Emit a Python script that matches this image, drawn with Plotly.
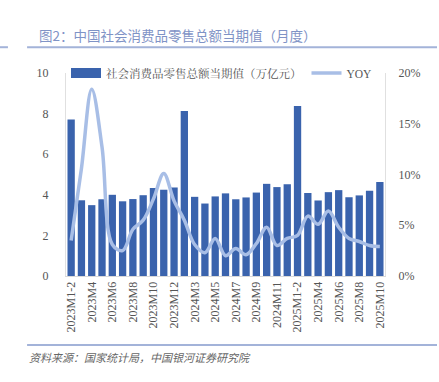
import plotly.graph_objects as go

categories = []
for y, last in [(2023, 12), (2024, 12), (2025, 10)]:
    categories.append(f"{y}M1-2")
    for m in range(3, last + 1):
        categories.append(f"{y}M{m}")

retail_value = [7.71, 3.73, 3.49, 3.78, 4.00, 3.68, 3.79, 3.98, 4.33, 4.25, 4.36,
                8.13, 3.90, 3.57, 3.92, 4.07, 3.78, 3.87, 4.11, 4.54, 4.38, 4.52,
                8.37, 4.09, 3.72, 4.13, 4.23, 3.88, 3.97, 4.20, 4.63]
yoy = [3.5, 10.6, 18.4, 12.7, 3.1, 2.5, 4.6, 5.5, 7.6, 10.1, 7.4,
       5.5, 3.1, 2.3, 3.7, 2.0, 2.7, 2.1, 3.2, 4.8, 3.0, 3.7,
       4.0, 5.9, 5.1, 6.4, 4.8, 3.7, 3.4, 3.0, 2.9]

tick_labels = categories[::2]

BAR = "#3A63AD"
LINE = "#A8BEE6"
TXT = "#555555"
serif = "Liberation Serif, Noto Serif CJK SC, Noto Sans CJK SC"

fig = go.Figure()
fig.add_trace(go.Bar(x=categories, y=retail_value, name="社会消费品零售总额当期值（万亿元）",
                     marker=dict(color=BAR, line=dict(width=0)), yaxis="y", showlegend=False))
fig.add_trace(go.Scatter(x=categories, y=yoy, name="YOY", mode="lines",
                         line=dict(color=LINE, width=3.5, shape="spline", smoothing=1.0),
                         yaxis="y2", showlegend=False))
# legend entries
fig.add_trace(go.Scatter(x=[None], y=[None], mode="lines", name="社会消费品零售总额当期值（万亿元）",
                         line=dict(color=BAR, width=10), showlegend=True))
fig.add_trace(go.Scatter(x=[None], y=[None], mode="lines", name="YOY",
                         line=dict(color=LINE, width=3.5), showlegend=True))

fig.update_layout(
    width=439, height=382,
    margin=dict(l=66, r=54, t=73, b=106),
    paper_bgcolor="white", plot_bgcolor="white",
    bargap=0.29,
    showlegend=True,
    legend=dict(orientation="h", x=0.0, y=1.0, yanchor="middle", xanchor="left",
                font=dict(family=serif, size=11.5, color=TXT), bgcolor="rgba(0,0,0,0)",
                itemwidth=30, tracegroupgap=0, entrywidth=0),
    xaxis=dict(type="category", tickmode="array", tickvals=tick_labels, ticktext=tick_labels,
               tickangle=-90, tickfont=dict(family=serif, size=12, color=TXT),
               showgrid=False, showline=True, linecolor="#D9D9D9", linewidth=1,
               ticks="", zeroline=False),
    yaxis=dict(range=[0, 10], dtick=2, tickfont=dict(family=serif, size=12, color=TXT),
               showgrid=False, showline=True, linecolor="#E0E0E0", zeroline=False,
               ticks="", ticklabelstandoff=14),
    yaxis2=dict(range=[0, 20], dtick=5, overlaying="y", side="right", ticksuffix="%",
                tickfont=dict(family=serif, size=12, color=TXT),
                showgrid=False, showline=True, linecolor="#E0E0E0", zeroline=False,
                ticks="", ticklabelstandoff=10),
    font=dict(family=serif, color=TXT),
)

# title and decorative rules
fig.add_annotation(text="图2：中国社会消费品零售总额当期值（月度）", xref="paper", yref="paper",
                   x=-0.09, y=1.0, yshift=38, xanchor="left", yanchor="middle", showarrow=False,
                   font=dict(family="Noto Sans CJK SC", size=13.5, color="#7F93C6"))
fig.add_shape(type="line", xref="paper", yref="paper", x0=-0.122, x1=1.163, y0=1.127, y1=1.127,
              line=dict(color="#A3B3D9", width=2))
fig.add_shape(type="line", xref="paper", yref="paper", x0=-0.207, x1=-0.182, y0=1.127, y1=1.127,
              line=dict(color="#A3B3D9", width=2))
fig.add_shape(type="line", xref="paper", yref="paper", x0=-0.122, x1=1.163, y0=-0.34, y1=-0.34,
              line=dict(color="#A3B3D9", width=2))
fig.add_annotation(text="<i>资料来源：国家统计局，中国银河证券研究院</i>", xref="paper", yref="paper",
                   x=-0.122, y=-0.40, xanchor="left", yanchor="middle", showarrow=False,
                   font=dict(family="Noto Sans CJK SC", size=11, color="#666666"))

fig.write_html("out.html", config={"displayModeBar": False},
               post_script="document.body.style.margin='0';")
